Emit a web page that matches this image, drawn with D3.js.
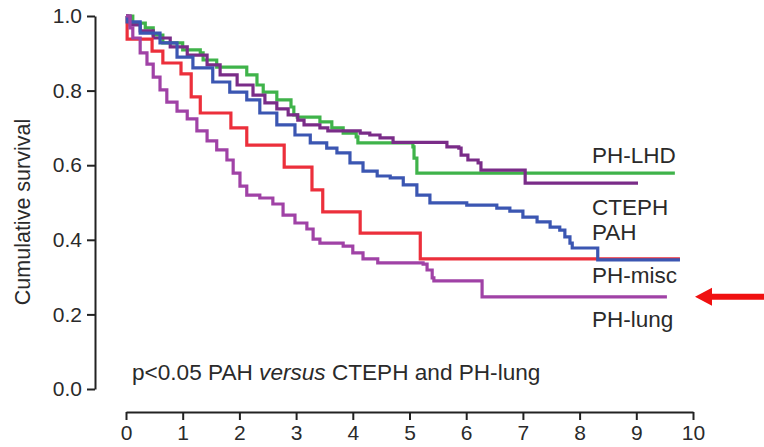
<!DOCTYPE html>
<html>
<head>
<meta charset="utf-8">
<script src="https://cdn.jsdelivr.net/npm/d3@7"></script>
<style>
  html, body { margin: 0; padding: 0; background: #fff; }
  svg { display: block; }
  text { font-family: "Liberation Sans", Arial, sans-serif; fill: #2a2a2a; }
</style>
</head>
<body>
<svg id="chart" width="764" height="447"></svg>
<script>
// ---- Data (time in years, cumulative survival) ----
const xTicks = [0, 1, 2, 3, 4, 5, 6, 7, 8, 9, 10];
const yTicks = [0.0, 0.2, 0.4, 0.6, 0.8, 1.0];

const phLhdTime = [0, 0.12, 0.34, 0.48, 0.65, 1.0, 1.31, 1.36, 1.6, 2.13, 2.31, 2.42, 2.66, 2.91, 2.96, 3.02, 3.42, 3.63, 3.83, 4.06, 4.09, 5.06, 5.08, 5.13, 9.68];
const phLhdSurv = [1.0, 0.981, 0.968, 0.949, 0.928, 0.909, 0.901, 0.882, 0.863, 0.842, 0.815, 0.796, 0.775, 0.756, 0.735, 0.729, 0.716, 0.700, 0.686, 0.676, 0.660, 0.649, 0.619, 0.579, 0.579];

const ctephTime = [0, 0.07, 0.25, 0.48, 0.78, 1.08, 1.43, 1.66, 1.96, 2.24, 2.45, 2.66, 2.86, 3.03, 3.14, 3.42, 3.56, 4.13, 4.30, 4.48, 4.71, 5.66, 5.87, 5.91, 6.03, 6.21, 6.26, 7.04, 9.03];
const ctephSurv = [1.0, 0.976, 0.960, 0.941, 0.917, 0.895, 0.869, 0.842, 0.815, 0.788, 0.767, 0.751, 0.735, 0.721, 0.708, 0.700, 0.692, 0.686, 0.681, 0.673, 0.661, 0.649, 0.646, 0.627, 0.614, 0.606, 0.587, 0.552, 0.552];

const pahTime = [0, 0.02, 0.25, 0.60, 0.90, 1.18, 1.53, 1.83, 2.13, 2.36, 2.66, 2.98, 3.25, 3.54, 3.72, 3.95, 4.18, 4.43, 4.66, 4.89, 5.13, 5.36, 6.01, 6.54, 6.77, 7.0, 7.25, 7.48, 7.65, 7.74, 7.83, 7.87, 8.32, 9.77];
const pahSurv = [1.0, 0.984, 0.954, 0.928, 0.890, 0.861, 0.823, 0.796, 0.775, 0.740, 0.708, 0.681, 0.660, 0.646, 0.633, 0.606, 0.584, 0.571, 0.566, 0.547, 0.520, 0.499, 0.493, 0.485, 0.477, 0.461, 0.448, 0.434, 0.426, 0.408, 0.391, 0.378, 0.346, 0.346];

const phMiscTime = [0, 0.02, 0.46, 0.65, 0.97, 1.15, 1.31, 1.85, 2.13, 2.79, 3.28, 3.47, 4.13, 5.19, 9.77];
const phMiscSurv = [1.0, 0.938, 0.906, 0.874, 0.845, 0.783, 0.740, 0.700, 0.654, 0.595, 0.534, 0.475, 0.418, 0.349, 0.349];

const phLungTime = [0, 0.07, 0.12, 0.25, 0.37, 0.48, 0.60, 0.72, 0.90, 1.08, 1.25, 1.43, 1.60, 1.78, 1.89, 2.01, 2.13, 2.36, 2.59, 2.77, 2.98, 3.19, 3.30, 3.42, 3.83, 4.00, 4.18, 4.44, 5.24, 5.31, 5.40, 5.43, 6.28, 9.54];
const phLungSurv = [1.0, 0.968, 0.941, 0.901, 0.871, 0.836, 0.802, 0.769, 0.745, 0.724, 0.692, 0.665, 0.641, 0.614, 0.579, 0.544, 0.520, 0.512, 0.496, 0.466, 0.445, 0.429, 0.402, 0.391, 0.383, 0.365, 0.349, 0.338, 0.335, 0.319, 0.298, 0.290, 0.247, 0.247];

const seriesNames = ["PH-LHD", "CTEPH", "PAH", "PH-misc", "PH-lung"];
const seriesColors = ["#3fb34a", "#7a2c88", "#3b56b2", "#ec2f3b", "#a042a6"];
const labelSurv = [0.607, 0.466, 0.400, 0.283, 0.166]; // label baselines (in survival units)
const pText = ["p<0.05 PAH ", "versus", " CTEPH and PH-lung"];

// ---- Build ----
const svg = d3.select("#chart");
const x = d3.scaleLinear().domain([0, 10]).range([126, 693]);
const y = d3.scaleLinear().domain([0, 1]).range([389, 16]);

const series = [
  { t: phLhdTime, s: phLhdSurv },
  { t: ctephTime, s: ctephSurv },
  { t: pahTime, s: pahSurv },
  { t: phMiscTime, s: phMiscSurv },
  { t: phLungTime, s: phLungSurv }
];

const line = d3.line().x(d => x(d[0])).y(d => y(d[1])).curve(d3.curveStepAfter);

// draw order: back to front
const order = [0, 1, 3, 2, 4];
order.forEach(i => {
  const pts = series[i].t.map((t, k) => [t, series[i].s[k]]);
  svg.append("path")
    .attr("d", line(pts))
    .attr("fill", "none")
    .attr("stroke", seriesColors[i])
    .attr("stroke-width", 3.2)
    .attr("stroke-linejoin", "miter");
});

// Y axis
const yAxis = d3.axisLeft(y).tickValues(yTicks).tickFormat(d3.format(".1f")).tickSize(8).tickSizeOuter(0).tickPadding(5);
const gy = svg.append("g").attr("transform", "translate(95,0)").call(yAxis);
gy.select(".domain").attr("stroke", "#222").attr("stroke-width", 2);
gy.selectAll(".tick line").attr("stroke", "#222").attr("stroke-width", 2);
gy.selectAll(".tick text").attr("font-size", 21).attr("fill", "#2a2a2a")
  .attr("font-family", "Liberation Sans, Arial, sans-serif");

// X axis
const xAxis = d3.axisBottom(x).tickValues(xTicks).tickFormat(d3.format("d")).tickSize(8).tickSizeOuter(0).tickPadding(5);
const gx = svg.append("g").attr("transform", "translate(0,412)").call(xAxis);
gx.select(".domain").attr("stroke", "#222").attr("stroke-width", 2);
gx.selectAll(".tick line").attr("stroke", "#222").attr("stroke-width", 2);
gx.selectAll(".tick text").attr("font-size", 21).attr("fill", "#2a2a2a")
  .attr("font-family", "Liberation Sans, Arial, sans-serif");

// Y axis title
svg.append("text")
  .attr("transform", "translate(30,212) rotate(-90)")
  .attr("text-anchor", "middle")
  .attr("font-size", 21.5)
  .text("Cumulative survival");

// Series labels
seriesNames.forEach((n, i) => {
  svg.append("text")
    .attr("x", 592)
    .attr("y", y(labelSurv[i]))
    .attr("font-size", 22.5)
    .text(n);
});

// p-value annotation
const pt = svg.append("text").attr("x", 132).attr("y", y(0.024)).attr("font-size", 22.6);
pt.append("tspan").text(pText[0]);
pt.append("tspan").attr("font-style", "italic").text(pText[1]);
pt.append("tspan").text(pText[2]);

// Red arrow pointing at PH-lung
const ay = y(phLungSurv[phLungSurv.length - 1]);
const ax = x(10) + 2;
svg.append("path")
  .attr("d", `M${ax},${ay} L${ax + 17},${ay - 9} L${ax + 17},${ay - 3} L764,${ay - 3} L764,${ay + 3} L${ax + 17},${ay + 3} L${ax + 17},${ay + 9} Z`)
  .attr("fill", "#f01010");
</script>
</body>
</html>
